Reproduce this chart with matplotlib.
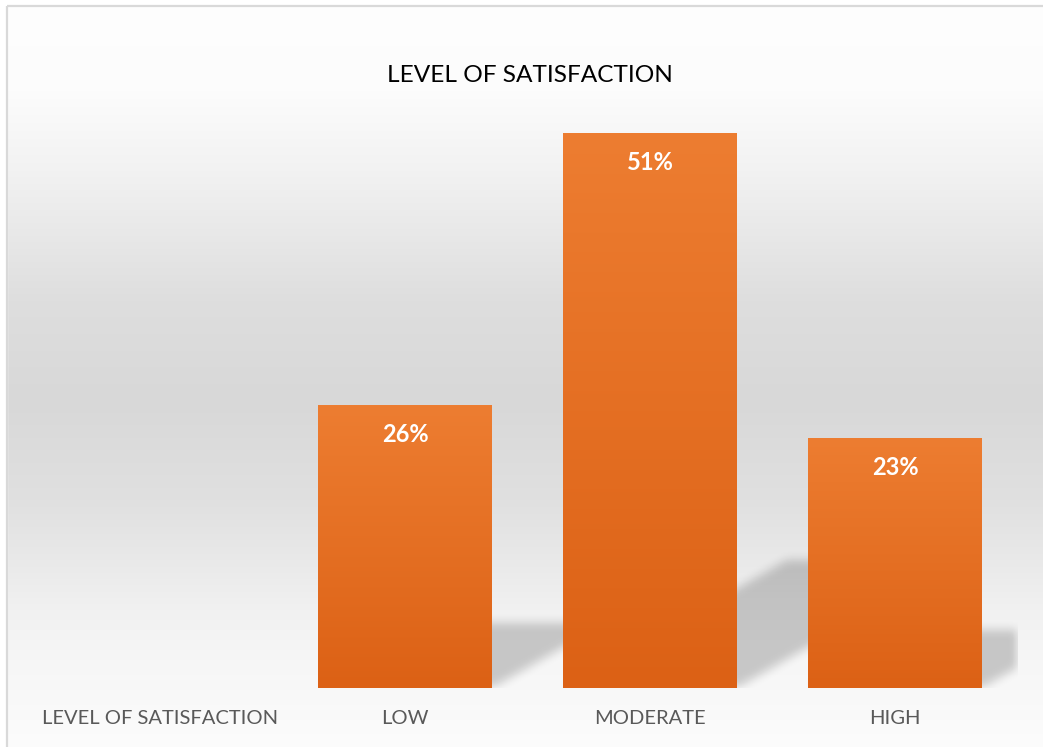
import numpy as np
import matplotlib
matplotlib.use('Agg')
import matplotlib.pyplot as plt
from matplotlib.path import Path
from matplotlib.colors import LinearSegmentedColormap

categories = ["LEVEL OF SATISFACTION", "LOW", "MODERATE", "HIGH"]
values = [np.nan, 0.26, 0.51, 0.23]
labels = ["", "26%", "51%", "23%"]
title = "LEVEL OF SATISFACTION"

W, H = 1043, 747
plt.rcParams['font.family'] = ['Lato', 'DejaVu Sans']

fig = plt.figure(figsize=(W / 100, H / 100), dpi=100)

# background gradient (white -> grey -> white), whole chart area
bg = fig.add_axes([0, 0, 1, 1], zorder=-10)
ypix = np.arange(H)
stops_y = [0, 90, 170, 300, 400, 500, 560, 610, 660, 720, 747]
stops_v = [254, 252, 242, 222, 216, 224, 233, 241, 246, 250, 252]
col = np.interp(ypix, stops_y, stops_v) / 255.0
grad = np.repeat(col[:, None, None], 3, axis=2)
bg.imshow(grad, aspect='auto', extent=[0, 1, 0, 1], origin='upper')
bg.set_xlim(0, 1)
bg.set_ylim(0, 1)
bg.axis('off')
# white margin outside the chart border + border lines
bx, by = 7 / W, 1 - 6 / H
bg.fill_between([0, 1], by, 1, color='white', zorder=2)
bg.fill_between([0, bx], 0, 1, color='white', zorder=2)
bg.plot([bx, bx], [0, by], color='#d9d9d9', lw=1.6, zorder=3, solid_capstyle='butt')
bg.plot([bx, 1], [by, by], color='#d9d9d9', lw=1.6, zorder=3, solid_capstyle='butt')

# plot area
x0, x1 = 37.5, 1017.5
y_bot = 688
ymax = 0.55
px_per_unit = 1088.0
y_top = y_bot - ymax * px_per_unit
ax = fig.add_axes([x0 / W, (H - y_bot) / H, (x1 - x0) / W, (y_bot - y_top) / H])
ax.set_facecolor('none')
ax.set_xlim(-0.5, 3.5)
ax.set_ylim(0, ymax)

x = np.arange(len(categories))
width = 0.71

# perspective shadows behind the bars
skew = 1.75 * px_per_unit / 245.0
nx, ny = int(x1 - x0), int(y_bot - y_top)
gx = np.linspace(-0.5, 3.5, nx)
gy = np.linspace(0, ymax, ny)
XX, YY = np.meshgrid(gx, gy)
pts = np.column_stack([XX.ravel(), YY.ravel()])
mask = np.zeros(XX.size)
for xi, v in zip(x, values):
    if np.isnan(v):
        continue
    h = 0.23 * v
    poly = Path([(xi - width / 2, 0), (xi + width / 2, 0),
                 (xi + width / 2 + skew * h, h), (xi - width / 2 + skew * h, h),
                 (xi - width / 2, 0)])
    mask = np.maximum(mask, poly.contains_points(pts).astype(float))
mask = mask.reshape(XX.shape)
k = np.ones(11) / 11
for _ in range(2):
    mask = np.apply_along_axis(lambda r: np.convolve(r, k, mode='same'), 1, mask)
    mask = np.apply_along_axis(lambda c: np.convolve(c, k, mode='same'), 0, mask)
shadow = np.zeros(mask.shape + (4,))
shadow[..., 3] = mask * 0.19
ax.imshow(shadow, extent=[-0.5, 3.5, 0, ymax], origin='lower', aspect='auto', zorder=1)

# bars with vertical orange gradient
bars = ax.bar(x, np.nan_to_num(values), width=width, color='none', zorder=2)
cmap = LinearSegmentedColormap.from_list('org', ['#DC6115', '#ED7D31'])
g = np.linspace(0, 1, 256)[:, None]
for b, v in zip(bars, values):
    if np.isnan(v):
        continue
    im = ax.imshow(g, cmap=cmap, origin='lower', aspect='auto', zorder=2,
                   extent=[b.get_x(), b.get_x() + b.get_width(), 0, v])
    im.set_clip_path(b)
ax.set_xlim(-0.5, 3.5)
ax.set_ylim(0, ymax)

for xi, v, lab in zip(x, values, labels):
    if np.isnan(v):
        continue
    ax.annotate(lab, (xi, v), xytext=(0, -21.5), textcoords='offset points',
                ha='center', va='center', color='white', fontsize=17,
                fontweight='bold', zorder=5)

ax.set_xticks(x)
ax.set_xticklabels(categories, color='#595959', fontsize=14.5)
ax.tick_params(axis='x', length=0, pad=16)
ax.set_yticks([])
for s in ax.spines.values():
    s.set_visible(False)

fig.text(530 / W, 1 - 75 / H, title, ha='center', va='center', fontsize=17.6, color='black')

fig.savefig('out.png', dpi=100)
